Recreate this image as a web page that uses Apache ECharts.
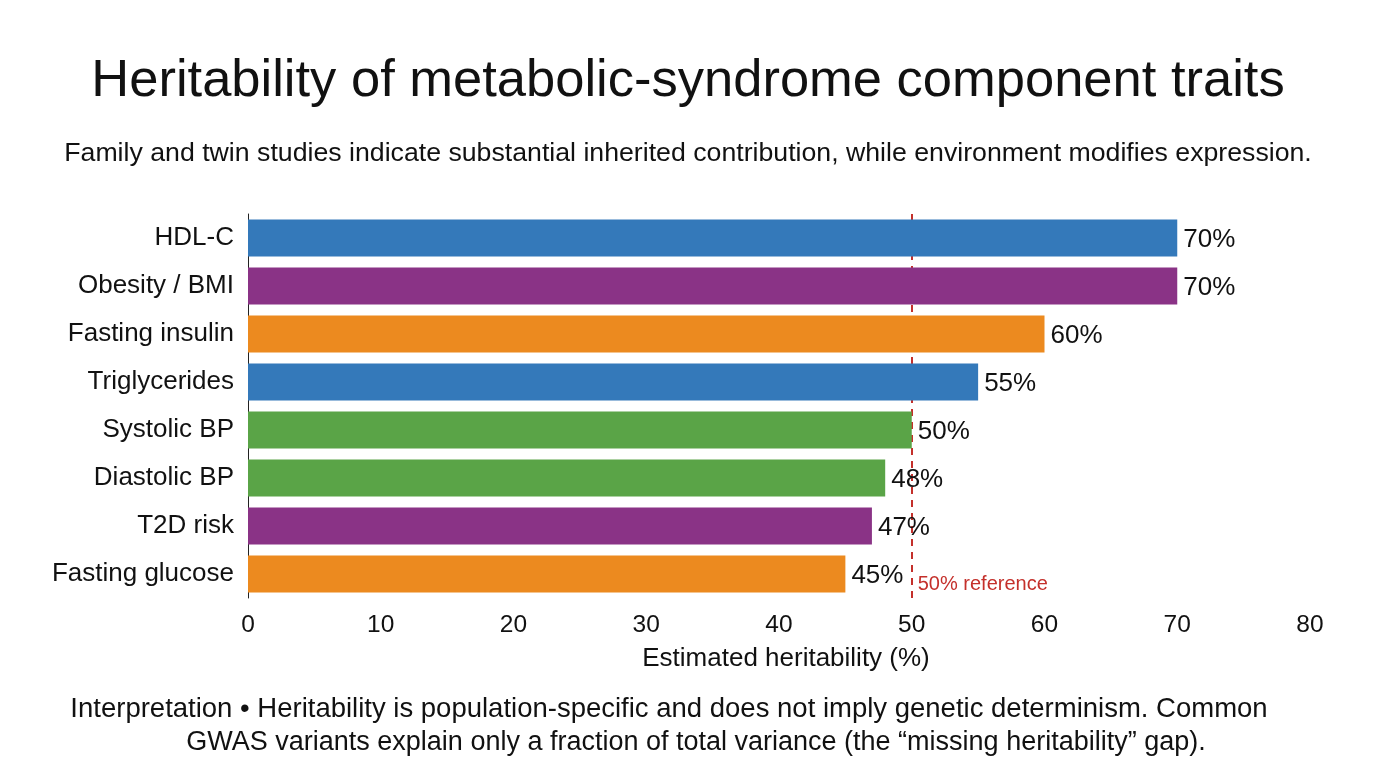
<!DOCTYPE html>
<html>
<head>
<meta charset="utf-8">
<script src="https://cdn.jsdelivr.net/npm/echarts@6/dist/echarts.min.js"></script>
<style>
  html, body { margin: 0; padding: 0; background: #fff; }
  #chart { width: 1376px; height: 768px; }
</style>
</head>
<body>
<div id="chart"></div>
<script>
// traits listed bottom to top (category axis runs upward)
var traits = ['Fasting glucose', 'T2D risk', 'Diastolic BP', 'Systolic BP',
              'Triglycerides', 'Fasting insulin', 'Obesity / BMI', 'HDL-C'];
var heritability = [45, 47, 48, 50, 55, 60, 70, 70];
var groups = ['glucose', 'adiposity', 'bp', 'bp', 'lipid', 'glucose', 'adiposity', 'lipid'];
var xTicks = [0, 10, 20, 30, 40, 50, 60, 70, 80];
var referenceValue = 50;

var groupColors = {
    lipid: '#3479ba',
    adiposity: '#8a3386',
    glucose: '#ec8a1f',
    bp: '#5aa447'
};

var font = '"Liberation Sans", Arial, Helvetica, sans-serif';

var chart = echarts.init(document.getElementById('chart'));

var option = {
    backgroundColor: '#ffffff',
    title: [
        {
            text: 'Heritability of metabolic-syndrome component traits',
            left: 'center',
            top: 50,
            textStyle: { fontFamily: font, fontSize: 52.5, fontWeight: 'normal', color: '#111' }
        },
        {
            text: 'Family and twin studies indicate substantial inherited contribution, while environment modifies expression.',
            left: 'center',
            top: 135,
            textStyle: { fontFamily: font, fontSize: 26.7, fontWeight: 'normal', color: '#111' }
        },
        // footer note, two lines
        {
            text: 'Interpretation \u2022 Heritability is population-specific and does not imply genetic determinism. Common',
            left: 664,
            top: 688,
            textAlign: 'center',
            textStyle: { fontFamily: font, fontSize: 27.5, fontWeight: 'normal', color: '#111', lineHeight: 33 }
        },
        {
            text: 'GWAS variants explain only a fraction of total variance (the \u201cmissing heritability\u201d gap).',
            left: 691,
            top: 721,
            textAlign: 'center',
            textStyle: { fontFamily: font, fontSize: 27, fontWeight: 'normal', color: '#111', lineHeight: 33 }
        }
    ],
    grid: {
        left: 248,
        right: 66,
        top: 214,
        bottom: 170,
        containLabel: false
    },
    xAxis: {
        type: 'value',
        min: xTicks[0],
        max: xTicks[xTicks.length - 1],
        interval: 10,
        name: 'Estimated heritability (%)',
        nameLocation: 'middle',
        nameGap: 48,
        nameTextStyle: { fontFamily: font, fontSize: 26, color: '#111', padding: [0, 0, 0, 14] },
        axisLine: { show: false },
        axisTick: { show: false },
        splitLine: { show: false },
        axisLabel: { fontFamily: font, fontSize: 24.5, color: '#111', margin: 15 }
    },
    yAxis: {
        type: 'category',
        data: traits,
        axisLine: { show: true, lineStyle: { color: '#222', width: 1 } },
        axisTick: { show: false },
        axisLabel: { fontFamily: font, fontSize: 26, color: '#111', margin: 14 }
    },
    series: [
        {
            type: 'bar',
            barCategoryGap: '23%',
            data: heritability.map(function (v, i) {
                return { value: v, itemStyle: { color: groupColors[groups[i]] } };
            }),
            label: {
                show: true,
                position: 'right',
                distance: 6,
                offset: [0, 2],
                formatter: '{c}%',
                fontFamily: font,
                fontSize: 26,
                color: '#111'
            },
            z: 2,
            markLine: {
                silent: true,
                symbol: 'none',
                z: 1,
                lineStyle: { color: '#c4302b', type: [7, 6], width: 2 },
                label: { show: false },
                data: [{ xAxis: referenceValue }]
            },
            markPoint: {
                silent: true,
                symbol: 'circle',
                symbolSize: 0,
                data: [{ coord: [referenceValue, traits[0]] }],
                label: {
                    show: true,
                    position: 'right',
                    distance: 6,
                    offset: [0, 10],
                    formatter: '50% reference',
                    fontFamily: font,
                    fontSize: 20,
                    color: '#c4302b'
                }
            }
        }
    ]
};

chart.setOption(option);
</script>
</body>
</html>
